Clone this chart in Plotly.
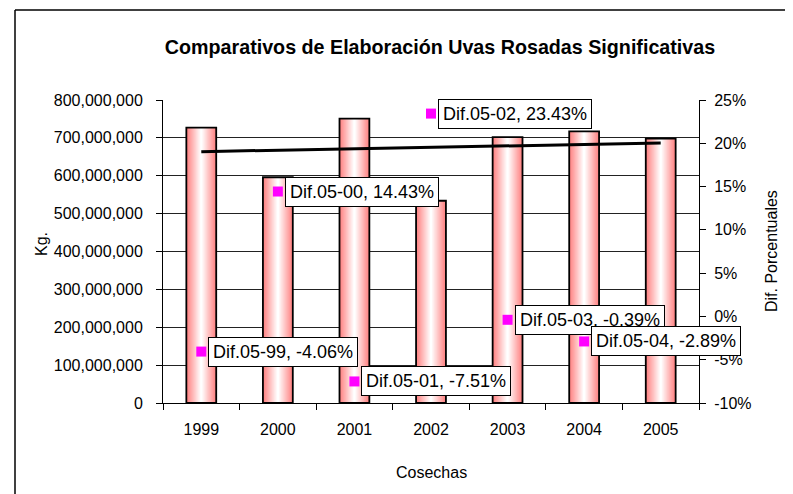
import numpy as np
import plotly.graph_objects as go

# ---- data ----
years = ["1999", "2000", "2001", "2002", "2003", "2004", "2005"]
kg = [727_000_000, 596_000_000, 751_000_000, 534_000_000, 702_000_000, 717_000_000, 698_000_000]
dif_years = ["1999", "2000", "2001", "2002", "2003", "2004"]
dif_pct = [-4.06, 14.43, -7.51, 23.43, -0.39, -2.89]
dif_labels = ["Dif.05-99", "Dif.05-00", "Dif.05-01", "Dif.05-02", "Dif.05-03", "Dif.05-04"]
left_ticks = [0, 100_000_000, 200_000_000, 300_000_000, 400_000_000,
              500_000_000, 600_000_000, 700_000_000, 800_000_000]
left_ticktext = ["0", "100,000,000", "200,000,000", "300,000,000", "400,000,000",
                 "500,000,000", "600,000,000", "700,000,000", "800,000,000"]
right_ticks = [-10, -5, 0, 5, 10, 15, 20, 25]
right_ticktext = ["-10%", "-5%", "0%", "5%", "10%", "15%", "20%", "25%"]

FONT = "Arial, Liberation Sans, sans-serif"
# page has an 8px body margin, so the figure is drawn at (8, 8)
OFF = 8
PAGE_W, PAGE_H = 793, 494
W, H = PAGE_W - OFF, PAGE_H - OFF
PL, PT, PR, PB = 163, 100, 699, 403          # plot area in page pixels
ML, MT, MR, MB = PL - OFF, PT - OFF, PAGE_W - PR, PAGE_H - PB
PW, PH = PR - PL, PB - PT


def px(xp):  # page x -> paper x
    return (xp - PL) / PW


def py(yp):  # page y -> paper y
    return (PB - yp) / PH


xpos = list(range(len(years)))
dif_x = [years.index(y) for y in dif_years]

fig = go.Figure()

# gradient bars built from stacked layers
bar_w = 0.39
N = 14
edge = np.array([255, 130, 130])
white = np.array([255, 255, 255])
for k in range(N):
    t = k / (N - 1)
    c = edge * (1 - t) + white * t
    fig.add_trace(go.Bar(
        x=xpos, y=kg, width=bar_w * (1 - k / N),
        marker=dict(color=f"rgb({c[0]:.0f},{c[1]:.0f},{c[2]:.0f})"),
        marker_line_width=0,
        showlegend=False, hoverinfo="skip"))
# outline
fig.add_trace(go.Bar(
    x=xpos, y=kg, width=bar_w,
    marker=dict(color="rgba(0,0,0,0)", line=dict(color="black", width=1.8)),
    showlegend=False))

# linear trendline of the bars
slope, icpt = np.polyfit(xpos, np.array(kg, dtype=float), 1)
trend = [float(slope * i + icpt) for i in xpos]
fig.add_trace(go.Scatter(
    x=xpos, y=trend, mode="lines",
    line=dict(color="black", width=3), showlegend=False))

# percentage markers
fig.add_trace(go.Scatter(
    x=dif_x, y=dif_pct, yaxis="y2", mode="markers",
    marker=dict(symbol="square", size=10, color="#ff00ff"),
    showlegend=False))

for xi, p, lab in zip(dif_x, dif_pct, dif_labels):
    fig.add_annotation(
        x=xi, y=p, xref="x", yref="y2", xanchor="left", yanchor="middle",
        xshift=7, showarrow=False,
        text=f"{lab}, {p:.2f}%",
        font=dict(family=FONT, size=18, color="black"),
        bgcolor="white", bordercolor="black", borderwidth=1, borderpad=4)

# axis titles
fig.add_annotation(text="Kg.", xref="paper", yref="paper", x=px(41), y=py(244),
                   textangle=-90, showarrow=False, xanchor="center", yanchor="middle",
                   font=dict(family=FONT, size=16, color="black"))
fig.add_annotation(text="Dif. Porcentuales", xref="paper", yref="paper", x=px(771), y=py(251),
                   textangle=-90, showarrow=False, xanchor="center", yanchor="middle",
                   font=dict(family=FONT, size=16, color="black"))
fig.add_annotation(text="Cosechas", xref="paper", yref="paper", x=px(431), y=py(472),
                   showarrow=False, xanchor="center", yanchor="middle",
                   font=dict(family=FONT, size=16, color="black"))

# outer chart border (left and top edges visible)
fig.add_shape(type="line", xref="paper", yref="paper",
              x0=px(15), x1=px(PAGE_W + 10), y0=py(10), y1=py(10),
              line=dict(color="black", width=1.5))
fig.add_shape(type="line", xref="paper", yref="paper",
              x0=px(15), x1=px(15), y0=py(PAGE_H + 10), y1=py(10),
              line=dict(color="black", width=1.5))

fig.update_layout(
    width=W, height=H,
    margin=dict(l=ML, r=MR, t=MT, b=MB, autoexpand=False),
    paper_bgcolor="white", plot_bgcolor="white",
    barmode="overlay",
    font=dict(family=FONT, size=16, color="black"),
    title=dict(text="<b>Comparativos de Elaboración Uvas Rosadas Significativas</b>",
               x=(440 - OFF) / W, xanchor="center", y=1 - (47 - OFF) / H, yanchor="middle",
               font=dict(family=FONT, size=19.7, color="black")),
    xaxis=dict(
        range=[-0.5, len(years) - 0.5], tickmode="array", tickvals=xpos, ticktext=years,
        ticks="", showline=True, linecolor="black", linewidth=1,
        tickfont=dict(size=16), showgrid=False, zeroline=False, ticklabelstandoff=12,
        minor=dict(tickmode="array", tickvals=[i - 0.5 for i in range(len(years) + 1)],
                   ticks="outside", ticklen=6, tickcolor="black", showgrid=False)),
    yaxis=dict(
        range=[0, 800_000_000], tickmode="array", tickvals=left_ticks, ticktext=left_ticktext,
        showline=True, linecolor="black", linewidth=1,
        ticks="outside", ticklen=6, tickcolor="black", ticklabelstandoff=10,
        showgrid=True, gridcolor="#222222", gridwidth=1, zeroline=False,
        tickfont=dict(size=16)),
    yaxis2=dict(
        overlaying="y", side="right", range=[-10, 25], tickmode="array",
        tickvals=right_ticks, ticktext=right_ticktext,
        showline=True, linecolor="black", linewidth=1,
        ticks="outside", ticklen=6, tickcolor="black", ticklabelstandoff=5,
        showgrid=False, zeroline=False, tickfont=dict(size=16)),
)

fig.write_html("out.html")
